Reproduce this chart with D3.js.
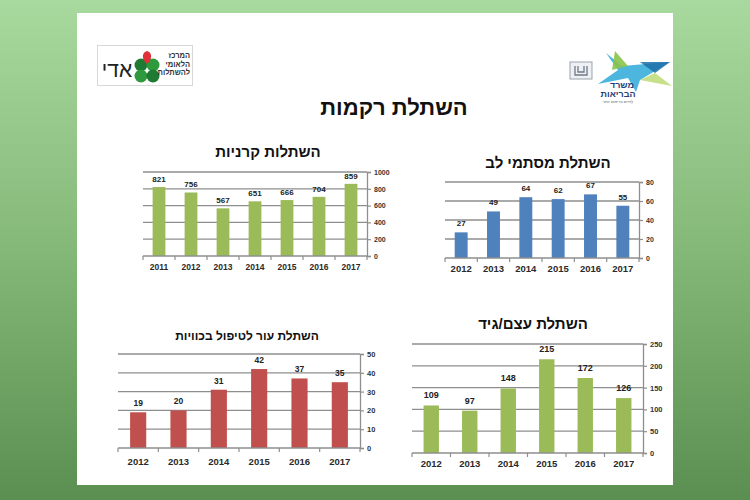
<!DOCTYPE html>
<html><head><meta charset="utf-8">
<script src="https://cdn.jsdelivr.net/npm/d3@7"></script>
<style>
html,body{margin:0;padding:0;width:750px;height:500px;overflow:hidden;}
text{font-family:"Liberation Sans",Arial,"DejaVu Sans",sans-serif;}
</style></head>
<body><svg id="c" width="750" height="500"></svg>
<script>
// ---- data ----
const corneaYears = ["2011","2012","2013","2014","2015","2016","2017"];
const corneaValues = [821,756,567,651,666,704,859];
const corneaTicks = [0,200,400,600,800,1000];

const heartYears = ["2012","2013","2014","2015","2016","2017"];
const heartValues = [27,49,64,62,67,55];
const heartTicks = [0,20,40,60,80];

const skinYears = ["2012","2013","2014","2015","2016","2017"];
const skinValues = [19,20,31,42,37,35];
const skinTicks = [0,10,20,30,40,50];

const boneYears = ["2012","2013","2014","2015","2016","2017"];
const boneValues = [109,97,148,215,172,126];
const boneTicks = [0,50,100,150,200,250];

const mainTitle = "השתלת רקמות";
const titles = {cornea:"השתלות קרניות", heart:"השתלת מסתמי לב", skin:"השתלת עור לטיפול בכוויות", bone:"השתלת עצם/גיד"};

// ---- drawing ----
const svg = d3.select("#c");
const defs = svg.append("defs");
const g = defs.append("linearGradient").attr("id","bg").attr("x1",0).attr("y1",0).attr("x2",0).attr("y2",1);
g.append("stop").attr("offset","0%").attr("stop-color","#a8d99e");
g.append("stop").attr("offset","50%").attr("stop-color","#84b878");
g.append("stop").attr("offset","100%").attr("stop-color","#5a8f51");
svg.append("rect").attr("width",750).attr("height",500).attr("fill","url(#bg)");
svg.append("rect").attr("x",77).attr("y",13).attr("width",596).attr("height",472).attr("fill","#fff");

svg.append("text").attr("x",394).attr("y",115).attr("text-anchor","middle").attr("direction","rtl")
  .attr("font-size",22).attr("font-weight","bold").attr("fill","#111").text(mainTitle);

// left logo
const L = svg.append("g");
L.append("rect").attr("x",97.5).attr("y",45.5).attr("width",95).attr("height",40).attr("fill","#fff").attr("stroke","#d8d8d8");
L.append("text").attr("x",117).attr("y",77).attr("text-anchor","middle").attr("direction","rtl").attr("font-size",21).attr("fill","#222").text("אדי");
const cx=147, cy=70;
[[-6,-5],[6,-5],[-6,6],[6,6]].forEach((d,i)=>{
  L.append("ellipse").attr("cx",cx+d[0]).attr("cy",cy+d[1]).attr("rx",6.5).attr("ry",6.5).attr("fill", i%3===0?"#1f7a33":"#2f9a3d");
});
L.append("path").attr("d",`M${cx},${cy-6} C${cx-6},${cy-11} ${cx-5},${cy-18} ${cx},${cy-19} C${cx+5},${cy-18} ${cx+6},${cy-11} ${cx},${cy-6}Z`).attr("fill","#e0313a");
["המרכז","הלאומי","להשתלות"].forEach((t,i)=>{
  L.append("text").attr("x",190).attr("y",58+i*8.5).attr("text-anchor","start").attr("direction","rtl").attr("font-size",7.5).attr("font-weight","bold").attr("fill","#333").text(t);
});

// right logo
const R = svg.append("g");
R.append("rect").attr("x",570).attr("y",62).attr("width",22).attr("height",17).attr("fill","#eef0f3").attr("stroke","#9aa3ae");
R.append("path").attr("d","M575,66 L575,75 L587,75 L587,66 M578,66 L578,72 L584,72 L584,66").attr("fill","none").attr("stroke","#6f7a88").attr("stroke-width",1.3);
R.append("path").attr("d","M606,53 L622,66 L670,62 L640,80 L636,92 L628,78 L598,84 L618,70 Z").attr("fill","#2da9d8").attr("opacity",0.85);
R.append("path").attr("d","M615,51 L628,66 L612,70 Z").attr("fill","#8bc34a").attr("opacity",0.9);
R.append("path").attr("d","M640,62 L670,62 L655,73 Z").attr("fill","#1c6fa8").attr("opacity",0.85);
R.append("path").attr("d","M655,73 L672,86 L640,80 Z").attr("fill","#b9d86b").attr("opacity",0.8);
R.append("text").attr("x",622).attr("y",88).attr("text-anchor","middle").attr("direction","rtl").attr("font-size",9).attr("font-weight","bold").attr("fill","#1f3f78").text("משרד");
R.append("text").attr("x",618).attr("y",97).attr("text-anchor","middle").attr("direction","rtl").attr("font-size",9).attr("font-weight","bold").attr("fill","#1f3f78").text("הבריאות");
R.append("text").attr("x",618).attr("y",103).attr("text-anchor","middle").attr("direction","rtl").attr("font-size",4).attr("fill","#555").text("לחיים בריאים יותר");

function chart(o){
  const gr = svg.append("g");
  const x = d3.scaleBand().domain(o.cats).range([o.x0,o.x1]).paddingInner(0.6).paddingOuter(0.3);
  const y = d3.scaleLinear().domain([0,o.ticks[o.ticks.length-1]]).range([o.yb,o.yt]);
  gr.selectAll("line.grid").data(o.ticks.filter(t=>t>0)).enter().append("line")
    .attr("x1",o.x0).attr("x2",o.x1).attr("y1",d=>y(d)).attr("y2",d=>y(d))
    .attr("stroke","#8e8e8e").attr("stroke-width",1.3);
  gr.selectAll("rect.bar").data(o.vals).enter().append("rect")
    .attr("x",(d,i)=>x(o.cats[i])).attr("width",x.bandwidth())
    .attr("y",d=>y(d)).attr("height",d=>y(0)-y(d)).attr("fill",o.color);
  gr.selectAll("text.val").data(o.vals).enter().append("text")
    .attr("x",(d,i)=>x(o.cats[i])+x.bandwidth()/2).attr("y",d=>y(d)-o.lblOff)
    .attr("text-anchor","middle").attr("font-size",o.vfs).attr("font-weight","bold").attr("fill","#222").text(d=>d);
  gr.append("line").attr("x1",o.x0).attr("x2",o.x1).attr("y1",y(0)).attr("y2",y(0)).attr("stroke","#8e8e8e").attr("stroke-width",1.3);
  const step = (o.x1-o.x0)/o.cats.length;
  d3.range(o.cats.length+1).forEach(i=>{
    gr.append("line").attr("x1",o.x0+i*step).attr("x2",o.x0+i*step).attr("y1",y(0)).attr("y2",y(0)+4).attr("stroke","#8e8e8e").attr("stroke-width",1.2);
  });
  gr.selectAll("text.cat").data(o.cats).enter().append("text")
    .attr("x",d=>x(d)+x.bandwidth()/2).attr("y",y(0)+o.catOff)
    .attr("text-anchor","middle").attr("font-size",o.cfs).attr("font-weight","bold").attr("fill","#2a2a2a").text(d=>d);
  const ax = gr.append("g").attr("transform",`translate(${o.x1},0)`)
    .call(d3.axisRight(y).tickValues(o.ticks).tickFormat(d3.format("d")).tickSize(4).tickPadding(3));
  ax.select(".domain").attr("stroke","#8e8e8e").attr("stroke-width",1.3);
  ax.selectAll(".tick line").attr("stroke","#8e8e8e").attr("stroke-width",1.2);
  ax.selectAll(".tick text").attr("font-size",o.tfs).attr("fill","#333").attr("font-weight","bold")
    .style("font-family",'"Liberation Sans",Arial,sans-serif');
  gr.append("text").attr("x",o.tx).attr("y",o.ty).attr("text-anchor","middle").attr("direction","rtl")
    .attr("font-size",o.tfsz).attr("font-weight","bold").attr("fill","#111").text(o.title);
}

chart({cats:corneaYears, vals:corneaValues, ticks:corneaTicks, x0:143, x1:367, yt:172, yb:256, color:"#9bbb59",
  vfs:8, cfs:8.5, tfs:7, lblOff:5, catOff:14, title:titles.cornea, tx:268, ty:157, tfsz:15});
chart({cats:heartYears, vals:heartValues, ticks:heartTicks, x0:445, x1:639, yt:182, yb:258, color:"#4f81bd",
  vfs:8, cfs:9.5, tfs:7, lblOff:6, catOff:14, title:titles.heart, tx:548, ty:168, tfsz:15});
chart({cats:skinYears, vals:skinValues, ticks:skinTicks, x0:118, x1:360, yt:354, yb:448, color:"#c0504d",
  vfs:8.5, cfs:9.5, tfs:7.5, lblOff:6, catOff:17, title:titles.skin, tx:247, ty:340, tfsz:12});
chart({cats:boneYears, vals:boneValues, ticks:boneTicks, x0:412, x1:643, yt:344, yb:453, color:"#9bbb59",
  vfs:9, cfs:9.5, tfs:7.5, lblOff:7, catOff:14, title:titles.bone, tx:533, ty:329, tfsz:15});
</script></body></html>
